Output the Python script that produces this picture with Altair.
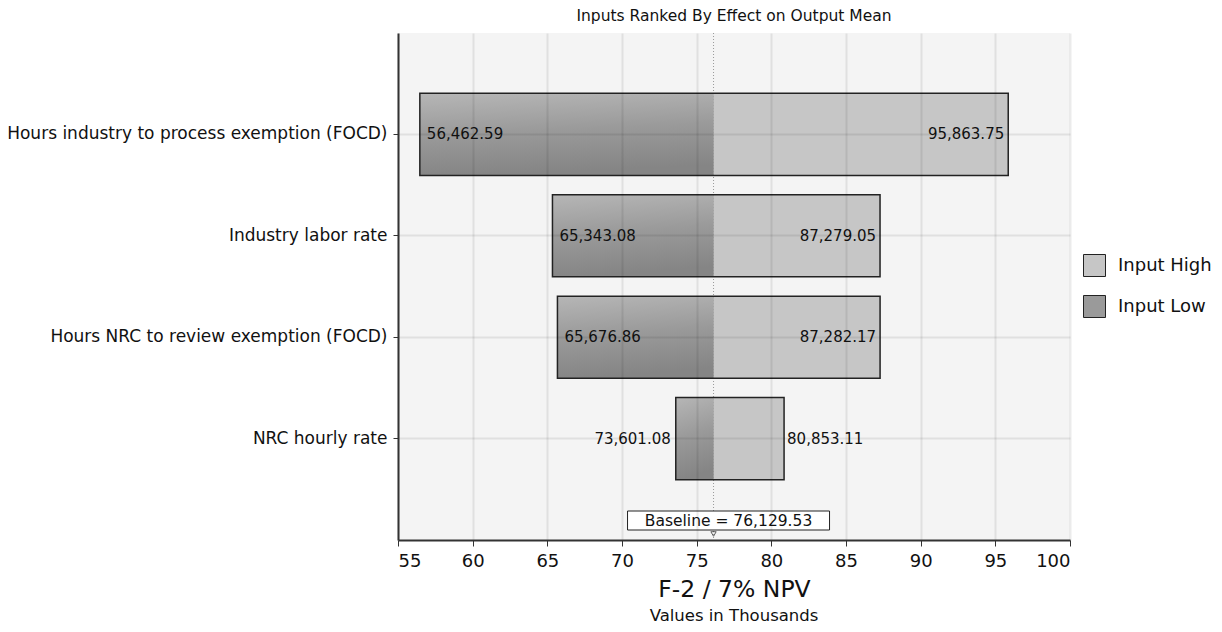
import altair as alt
import pandas as pd

inputs = [
    "Hours industry to process exemption (FOCD)",
    "Industry labor rate",
    "Hours NRC to review exemption (FOCD)",
    "NRC hourly rate",
]
low_values = [56462.59, 65343.08, 65676.86, 73601.08]
high_values = [95863.75, 87279.05, 87282.17, 80853.11]
baseline = 76129.53
x_ticks = [55, 60, 65, 70, 75, 80, 85, 90, 95, 100]

FONT = "DejaVu Sans"
base_k = baseline / 1000.0

rows = []
for name, lo, hi in zip(inputs, low_values, high_values):
    narrow = (hi - lo) < 10000
    rows.append(dict(input=name, low=lo, high=hi, lo_k=lo / 1000.0, hi_k=hi / 1000.0,
                     base=base_k, pos="out" if narrow else "in"))
wide = pd.DataFrame(rows)

long_rows = []
for r in rows:
    long_rows.append(dict(input=r["input"], kind="Input High", start=r["base"], end=r["hi_k"]))
    long_rows.append(dict(input=r["input"], kind="Input Low", start=r["lo_k"], end=r["base"]))
long = pd.DataFrame(long_rows)

W, H = 672, 507

xscale = alt.Scale(domain=[55, 100], nice=False, zero=False)
yscale = alt.Scale(domain=inputs, paddingInner=0.19, paddingOuter=0.595)

xenc = alt.X(
    "start:Q", scale=xscale,
    axis=alt.Axis(values=x_ticks, title="F-2 / 7% NPV", titleFontSize=23.5, titleFont=FONT,
                  titleFontWeight="normal", titleColor="#111", titlePadding=7,
                  labelFontSize=18, labelFont=FONT, labelColor="#111", labelPadding=6,
                  tickSize=6, tickColor="#333", domainColor="#333", domainWidth=2,
                  grid=True, gridColor="#000", gridOpacity=0.08, gridWidth=2, zindex=1),
)
yenc = alt.Y(
    "input:N", scale=yscale, sort=inputs, title=None,
    axis=alt.Axis(labelFontSize=17, labelFont=FONT, labelColor="#111", labelPadding=6,
                  tickSize=5, tickColor="#333", domainColor="#333", domainWidth=2,
                  grid=True, gridColor="#000", gridOpacity=0.08, gridWidth=2,
                  bandPosition=0.5, labelLimit=500, zindex=1),
)

bars = alt.Chart(long).mark_bar(strokeWidth=0).encode(
    x=xenc,
    x2="end:Q",
    y=yenc,
    color=alt.Color(
        "kind:N",
        scale=alt.Scale(domain=["Input High", "Input Low"], range=["#c6c6c6", "#9a9a9a"]),
        legend=alt.Legend(title=None, orient="none", legendX=685, legendY=221,
                          symbolType="square", symbolSize=484, symbolStrokeColor="#222",
                          symbolStrokeWidth=1, symbolOpacity=1, labelFontSize=18,
                          labelFont=FONT, labelColor="#111", rowPadding=14, labelOffset=12),
    ),
)

grad = alt.Gradient(
    gradient="linear",
    stops=[alt.GradientStop(color="#b6b6b6", offset=0),
           alt.GradientStop(color="#9a9a9a", offset=0.5),
           alt.GradientStop(color="#858585", offset=1)],
    x1=0, y1=0, x2=0.15, y2=1,
)
low_overlay = alt.Chart(wide).mark_bar(fill=grad, strokeWidth=0).encode(
    x=alt.X("lo_k:Q", scale=xscale),
    x2="base:Q",
    y=alt.Y("input:N", scale=yscale, sort=inputs),
)

outline = alt.Chart(wide).mark_bar(fillOpacity=0, stroke="#222", strokeWidth=1.5).encode(
    x=alt.X("lo_k:Q", scale=xscale),
    x2="hi_k:Q",
    y=alt.Y("input:N", scale=yscale, sort=inputs),
)

base_rule = alt.Chart(pd.DataFrame({"b": [base_k]})).mark_rule(
    color="#999", strokeDash=[1, 2], strokeWidth=1
).encode(x=alt.X("b:Q", scale=xscale))

txt_props = dict(font=FONT, fontSize=15, color="#111", baseline="middle")
inside = wide[wide["pos"] == "in"]
outside = wide[wide["pos"] == "out"]

low_in = alt.Chart(inside).mark_text(align="left", dx=7, **txt_props).encode(
    x=alt.X("lo_k:Q", scale=xscale), y=alt.Y("input:N", scale=yscale, sort=inputs),
    text=alt.Text("low:Q", format=",.2f"))
high_in = alt.Chart(inside).mark_text(align="right", dx=-4, **txt_props).encode(
    x=alt.X("hi_k:Q", scale=xscale), y=alt.Y("input:N", scale=yscale, sort=inputs),
    text=alt.Text("high:Q", format=",.2f"))
low_out = alt.Chart(outside).mark_text(align="right", dx=-5, **txt_props).encode(
    x=alt.X("lo_k:Q", scale=xscale), y=alt.Y("input:N", scale=yscale, sort=inputs),
    text=alt.Text("low:Q", format=",.2f"))
high_out = alt.Chart(outside).mark_text(align="left", dx=3, **txt_props).encode(
    x=alt.X("hi_k:Q", scale=xscale), y=alt.Y("input:N", scale=yscale, sort=inputs),
    text=alt.Text("high:Q", format=",.2f"))

bdf = pd.DataFrame({"b": [base_k], "label": ["Baseline = " + format(baseline, ",.2f")]})
box = alt.Chart(bdf).mark_rect(fill="white", stroke="#222", strokeWidth=1,
                               xOffset=-86, x2Offset=116).encode(
    x=alt.X("b:Q", scale=xscale), x2="b:Q",
    y=alt.value(478), y2=alt.value(497))
box_text = alt.Chart(bdf).mark_text(font=FONT, fontSize=15.5, color="#111", baseline="middle",
                                    align="center", dx=15).encode(
    x=alt.X("b:Q", scale=xscale), y=alt.value(488), text="label:N")
arrow = alt.Chart(bdf).mark_point(shape="triangle-down", size=28, filled=False,
                                  stroke="#222", strokeWidth=1).encode(
    x=alt.X("b:Q", scale=xscale), y=alt.value(501))

sub = alt.Chart(bdf).mark_text(font=FONT, fontSize=16.5, color="#111", baseline="middle",
                               align="center", text="Values in Thousands").encode(
    x=alt.value(W / 2), y=alt.value(583))

chart = alt.layer(
    base_rule, bars, low_overlay, outline, low_in, high_in, low_out, high_out,
    box, box_text, arrow, sub,
).properties(
    width=W, height=H,
    title=alt.TitleParams("Inputs Ranked By Effect on Output Mean", font=FONT, fontSize=15.5,
                          fontWeight="normal", color="#111", anchor="middle", offset=8),
    autosize="none",
    padding={"left": 390, "top": 25, "right": 144, "bottom": 84},
).configure_view(fill="#f4f4f4", strokeWidth=0)

chart.save("out.html", embed_options={"renderer": "svg", "actions": False})
